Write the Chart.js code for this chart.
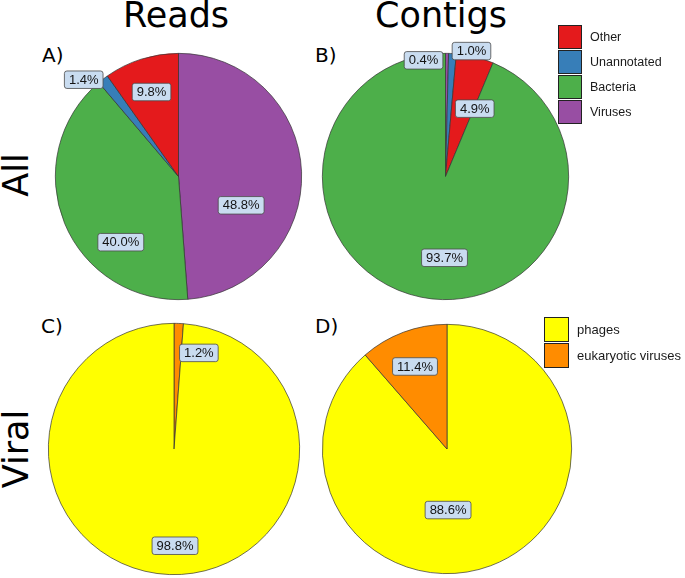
<!DOCTYPE html>
<html>
<head>
<meta charset="utf-8">
<script src="https://cdn.jsdelivr.net/npm/chart.js@4.4.0/dist/chart.umd.min.js"></script>
<style>
body { margin: 0; background: #fff; }
#wrap { position: relative; width: 685px; height: 578px; overflow: hidden; font-family: "Liberation Sans", Arial, sans-serif; }
.pie { position: absolute; }
.txt { position: absolute; white-space: nowrap; line-height: 1; color: #000; }
.big { font-family: "DejaVu Sans", sans-serif; font-size: 35px; }
.panel { font-family: "DejaVu Sans", sans-serif; font-size: 20px; }
.side { transform: translate(-50%, -50%) rotate(-90deg); }
.key { position: absolute; display: flex; flex-direction: column; }
.key .row { display: flex; align-items: center; }
.key .sw { box-sizing: border-box; border: 1.6px solid #222; }
.key .lab { color: #1a1a1a; }
</style>
</head>
<body>
<div id="wrap">
  <div class="txt big" style="left:176px; top:-2px; transform:translateX(-50%)">Reads</div>
  <div class="txt big" style="left:441px; top:-2px; transform:translateX(-50%)">Contigs</div>
  <div class="txt big side" style="left:16px; top:175px">All</div>
  <div class="txt big side" style="left:16px; top:449px">Viral</div>
  <div class="txt panel" style="left:42px; top:45px">A)</div>
  <div class="txt panel" style="left:315px; top:45px">B)</div>
  <div class="txt panel" style="left:41px; top:316px">C)</div>
  <div class="txt panel" style="left:315px; top:316px">D)</div>
  <canvas id="pieA" class="pie"></canvas>
  <canvas id="pieB" class="pie"></canvas>
  <canvas id="pieC" class="pie"></canvas>
  <canvas id="pieD" class="pie"></canvas>
  <div id="keyAll" class="key" style="left:558px; top:25px"></div>
  <div id="keyViral" class="key" style="left:544px; top:316px"></div>
</div>
<script>
// values, slices listed clockwise from 12 o'clock
const readsAllLabels = ["Viruses", "Bacteria", "Unannotated", "Other"];
const readsAllValues = [48.8, 40.0, 1.4, 9.8];
const contigsAllLabels = ["Viruses", "Unannotated", "Other", "Bacteria"];
const contigsAllValues = [0.4, 1.0, 4.9, 93.7];
const readsViralLabels = ["eukaryotic viruses", "phages"];
const readsViralValues = [1.2, 98.8];
const contigsViralLabels = ["phages", "eukaryotic viruses"];
const contigsViralValues = [88.6, 11.4];

const legendAll = ["Other", "Unannotated", "Bacteria", "Viruses"];
const legendViral = ["phages", "eukaryotic viruses"];

const colors = {
    "Other": "#E41A1C",
    "Unannotated": "#377EB8",
    "Bacteria": "#4DAF4A",
    "Viruses": "#984EA3",
    "phages": "#FFFF00",
    "eukaryotic viruses": "#FF8C00"
};

// where each percentage box sits: [angle clockwise from top, fraction of radius]
const placeA = [[114.7, 0.56], [221.3, 0.71], [315.6, 1.10], [342.3, 0.72]];
const placeB = [[349.3, 0.96], [11.7, 1.04], [23.3, 0.60], [180.7, 0.66]];
const placeC = [[14.5, 0.79], [179.4, 0.77]];
const placeD = [[179.0, 0.49], [338.8, 0.71]];

//percentage boxes drawn on top of the slices
const boxLabels = {
    id: 'boxLabels',
    afterDatasetsDraw(chart, args, opts) {
        const ctx = chart.ctx;
        const values = chart.data.datasets[0].data;
        chart.getDatasetMeta(0).data.forEach((arc, i) => {
            const p = opts.place[i];
            const a = (p[0] - 90) * Math.PI / 180;
            const d = p[1] * arc.outerRadius;
            const x = arc.x + Math.cos(a) * d;
            const y = arc.y + Math.sin(a) * d;
            const text = values[i].toFixed(1) + "%";
            ctx.save();
            ctx.font = '13px "Liberation Sans", Arial, sans-serif';
            const w = ctx.measureText(text).width + 9;
            const h = 17.5;
            ctx.beginPath();
            ctx.roundRect(x - w / 2, y - h / 2, w, h, 2.5);
            ctx.fillStyle = "#c9dcf0";
            ctx.fill();
            ctx.lineWidth = 0.8;
            ctx.strokeStyle = "#4a4a4a";
            ctx.stroke();
            ctx.fillStyle = "#141414";
            ctx.textAlign = "center";
            ctx.textBaseline = "middle";
            ctx.fillText(text, x, y + 0.5);
            ctx.restore();
        });
    }
};

function makePie(id, labels, values, place, cx, cy, r) {
    const pad = 30;
    const size = 2 * (r + pad);
    const canvas = document.getElementById(id);
    canvas.width = size;
    canvas.height = size;
    canvas.style.left = (cx - r - pad) + "px";
    canvas.style.top = (cy - r - pad) + "px";
    new Chart(canvas.getContext('2d'), {
        type: 'pie',
        data: {
            labels: labels,
            datasets: [{
                data: values,
                backgroundColor: labels.map(l => colors[l]),
                borderColor: "#333333",
                borderWidth: 0.7
            }]
        },
        options: {
            responsive: false,
            animation: false,
            events: [],
            layout: { padding: pad },
            plugins: {
                legend: { display: false },
                tooltip: { enabled: false },
                boxLabels: { place: place }
            }
        },
        plugins: [boxLabels]
    });
}

makePie("pieA", readsAllLabels, readsAllValues, placeA, 178, 176.5, 123.5);
makePie("pieB", contigsAllLabels, contigsAllValues, placeB, 445, 176.5, 123.5);
makePie("pieC", readsViralLabels, readsViralValues, placeC, 174, 449, 126);
makePie("pieD", contigsViralLabels, contigsViralValues, placeD, 447, 449, 125);

//legends as html
function makeKey(id, names, fontSize, box, gap) {
    let html = "";
    names.forEach(n => {
        html += `<div class="row" style="height:${gap}px">
            <div class="sw" style="width:${box}px;height:${box}px;background:${colors[n]}"></div>
            <div class="lab" style="font-size:${fontSize}px;margin-left:8px">${n}</div>
        </div>`;
    });
    document.getElementById(id).innerHTML = html;
}
makeKey("keyAll", legendAll, 12.5, 24, 24.8);
makeKey("keyViral", legendViral, 13, 25, 26);
</script>
</body>
</html>
